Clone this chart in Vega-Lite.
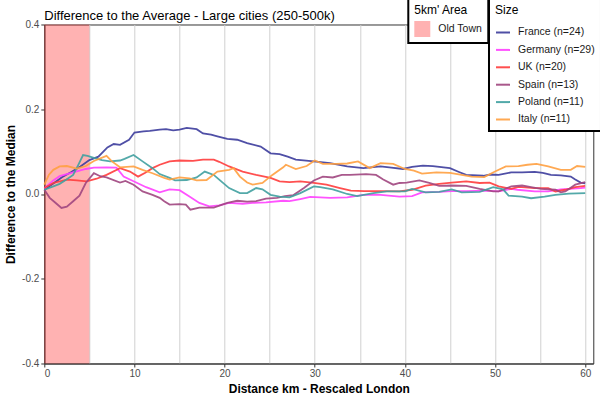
{
  "$schema": "https://vega.github.io/schema/vega-lite/v6.json",
  "width": 549,
  "height": 339,
  "autosize": "none",
  "padding": {"left": 44.3, "top": 24.5, "right": 6.7, "bottom": 36.2},
  "background": "white",
  "title": {"text": "Difference to the Average - Large cities (250-500k)", "anchor": "start", "frame": "group", "font": "Liberation Sans", "fontSize": 13, "fontWeight": "normal", "color": "black", "baseline": "alphabetic", "offset": 7, "dy": 42},
  "config": {
    "view": {"stroke": "#333333", "strokeWidth": 1},
    "axis": {"labelFont": "Liberation Sans", "labelFontSize": 10, "labelColor": "#4d4d4d", "titleFont": "Liberation Sans", "titleFontSize": 12, "titleFontWeight": "bold", "titleColor": "black", "domainColor": "#333333", "domainWidth": 1, "tickSize": 3.5, "gridColor": "#d0d0d0", "gridWidth": 1, "labelPadding": 2},
    "legend": {"orient": "none", "titleFont": "Liberation Sans", "titleFontSize": 12, "titleFontWeight": "normal", "titleColor": "black", "labelFont": "Liberation Sans", "labelFontSize": 10.5, "labelColor": "#1a1a1a", "strokeColor": "black", "strokeWidth": 2, "fillColor": "white", "padding": 6}
  },
  "datasets": {
    "area": [{"x0": 0, "x1": 5, "area": "Old Town"}],
    "lines": [
      {"country": "France (n=24)", "km": 0, "v": 0.010},
      {"country": "France (n=24)", "km": 1, "v": 0.025},
      {"country": "France (n=24)", "km": 2, "v": 0.040},
      {"country": "France (n=24)", "km": 3, "v": 0.052},
      {"country": "France (n=24)", "km": 4, "v": 0.065},
      {"country": "France (n=24)", "km": 5, "v": 0.080},
      {"country": "France (n=24)", "km": 6, "v": 0.088},
      {"country": "France (n=24)", "km": 7, "v": 0.110},
      {"country": "France (n=24)", "km": 7.7, "v": 0.118},
      {"country": "France (n=24)", "km": 8.4, "v": 0.116},
      {"country": "France (n=24)", "km": 9.4, "v": 0.128},
      {"country": "France (n=24)", "km": 10, "v": 0.145},
      {"country": "France (n=24)", "km": 11, "v": 0.148},
      {"country": "France (n=24)", "km": 11.7, "v": 0.149},
      {"country": "France (n=24)", "km": 12.8, "v": 0.152},
      {"country": "France (n=24)", "km": 13.5, "v": 0.153},
      {"country": "France (n=24)", "km": 14.3, "v": 0.150},
      {"country": "France (n=24)", "km": 15, "v": 0.152},
      {"country": "France (n=24)", "km": 15.8, "v": 0.156},
      {"country": "France (n=24)", "km": 16.9, "v": 0.153},
      {"country": "France (n=24)", "km": 17.6, "v": 0.143},
      {"country": "France (n=24)", "km": 18.5, "v": 0.140},
      {"country": "France (n=24)", "km": 19.2, "v": 0.136},
      {"country": "France (n=24)", "km": 20.3, "v": 0.130},
      {"country": "France (n=24)", "km": 21.4, "v": 0.128},
      {"country": "France (n=24)", "km": 22.5, "v": 0.120},
      {"country": "France (n=24)", "km": 24, "v": 0.112},
      {"country": "France (n=24)", "km": 25.1, "v": 0.096},
      {"country": "France (n=24)", "km": 26.1, "v": 0.094},
      {"country": "France (n=24)", "km": 27, "v": 0.088},
      {"country": "France (n=24)", "km": 27.9, "v": 0.081},
      {"country": "France (n=24)", "km": 29.9, "v": 0.077},
      {"country": "France (n=24)", "km": 31.7, "v": 0.073},
      {"country": "France (n=24)", "km": 33.6, "v": 0.065},
      {"country": "France (n=24)", "km": 35.4, "v": 0.061},
      {"country": "France (n=24)", "km": 37.3, "v": 0.065},
      {"country": "France (n=24)", "km": 38.5, "v": 0.062},
      {"country": "France (n=24)", "km": 39.8, "v": 0.059},
      {"country": "France (n=24)", "km": 40.8, "v": 0.064},
      {"country": "France (n=24)", "km": 42, "v": 0.067},
      {"country": "France (n=24)", "km": 43.1, "v": 0.066},
      {"country": "France (n=24)", "km": 45, "v": 0.061},
      {"country": "France (n=24)", "km": 46, "v": 0.052},
      {"country": "France (n=24)", "km": 46.8, "v": 0.045},
      {"country": "France (n=24)", "km": 48.7, "v": 0.043},
      {"country": "France (n=24)", "km": 49.5, "v": 0.046},
      {"country": "France (n=24)", "km": 50.4, "v": 0.045},
      {"country": "France (n=24)", "km": 51.8, "v": 0.051},
      {"country": "France (n=24)", "km": 53, "v": 0.051},
      {"country": "France (n=24)", "km": 54.4, "v": 0.052},
      {"country": "France (n=24)", "km": 55.3, "v": 0.050},
      {"country": "France (n=24)", "km": 56.2, "v": 0.045},
      {"country": "France (n=24)", "km": 57.3, "v": 0.044},
      {"country": "France (n=24)", "km": 58.4, "v": 0.041},
      {"country": "France (n=24)", "km": 58.9, "v": 0.034},
      {"country": "France (n=24)", "km": 59.5, "v": 0.027},
      {"country": "France (n=24)", "km": 60, "v": 0.025},

      {"country": "Germany (n=29)", "km": 0, "v": 0.013},
      {"country": "Germany (n=29)", "km": 1, "v": 0.032},
      {"country": "Germany (n=29)", "km": 1.7, "v": 0.042},
      {"country": "Germany (n=29)", "km": 3.2, "v": 0.051},
      {"country": "Germany (n=29)", "km": 4.6, "v": 0.059},
      {"country": "Germany (n=29)", "km": 5.5, "v": 0.062},
      {"country": "Germany (n=29)", "km": 6.9, "v": 0.063},
      {"country": "Germany (n=29)", "km": 8, "v": 0.062},
      {"country": "Germany (n=29)", "km": 8.8, "v": 0.041},
      {"country": "Germany (n=29)", "km": 9.9, "v": 0.030},
      {"country": "Germany (n=29)", "km": 11.3, "v": 0.016},
      {"country": "Germany (n=29)", "km": 12.8, "v": 0.004},
      {"country": "Germany (n=29)", "km": 13.9, "v": 0.011},
      {"country": "Germany (n=29)", "km": 15, "v": 0.009},
      {"country": "Germany (n=29)", "km": 16.1, "v": -0.006},
      {"country": "Germany (n=29)", "km": 17.2, "v": -0.021},
      {"country": "Germany (n=29)", "km": 18.3, "v": -0.029},
      {"country": "Germany (n=29)", "km": 19.4, "v": -0.027},
      {"country": "Germany (n=29)", "km": 20.5, "v": -0.021},
      {"country": "Germany (n=29)", "km": 22, "v": -0.023},
      {"country": "Germany (n=29)", "km": 23.1, "v": -0.021},
      {"country": "Germany (n=29)", "km": 24.6, "v": -0.020},
      {"country": "Germany (n=29)", "km": 26.5, "v": -0.016},
      {"country": "Germany (n=29)", "km": 27.2, "v": -0.017},
      {"country": "Germany (n=29)", "km": 28.4, "v": -0.012},
      {"country": "Germany (n=29)", "km": 29.5, "v": -0.007},
      {"country": "Germany (n=29)", "km": 31.7, "v": -0.009},
      {"country": "Germany (n=29)", "km": 33.6, "v": -0.008},
      {"country": "Germany (n=29)", "km": 35.4, "v": -0.002},
      {"country": "Germany (n=29)", "km": 37.3, "v": -0.002},
      {"country": "Germany (n=29)", "km": 39.4, "v": -0.006},
      {"country": "Germany (n=29)", "km": 40.8, "v": -0.005},
      {"country": "Germany (n=29)", "km": 41.9, "v": 0.004},
      {"country": "Germany (n=29)", "km": 43.8, "v": 0.005},
      {"country": "Germany (n=29)", "km": 45.2, "v": 0.007},
      {"country": "Germany (n=29)", "km": 46.8, "v": 0.007},
      {"country": "Germany (n=29)", "km": 49, "v": 0.008},
      {"country": "Germany (n=29)", "km": 50.4, "v": 0.006},
      {"country": "Germany (n=29)", "km": 51.8, "v": 0.012},
      {"country": "Germany (n=29)", "km": 52.5, "v": 0.010},
      {"country": "Germany (n=29)", "km": 54.4, "v": 0.006},
      {"country": "Germany (n=29)", "km": 55.9, "v": 0.006},
      {"country": "Germany (n=29)", "km": 57.3, "v": 0.011},
      {"country": "Germany (n=29)", "km": 59.5, "v": 0.014},
      {"country": "Germany (n=29)", "km": 60, "v": 0.015},

      {"country": "UK (n=20)", "km": 0, "v": 0.014},
      {"country": "UK (n=20)", "km": 1, "v": 0.026},
      {"country": "UK (n=20)", "km": 2.5, "v": 0.034},
      {"country": "UK (n=20)", "km": 3.6, "v": 0.032},
      {"country": "UK (n=20)", "km": 4.7, "v": 0.030},
      {"country": "UK (n=20)", "km": 5.8, "v": 0.036},
      {"country": "UK (n=20)", "km": 6.9, "v": 0.045},
      {"country": "UK (n=20)", "km": 8.4, "v": 0.061},
      {"country": "UK (n=20)", "km": 9.5, "v": 0.053},
      {"country": "UK (n=20)", "km": 10.4, "v": 0.041},
      {"country": "UK (n=20)", "km": 11.2, "v": 0.050},
      {"country": "UK (n=20)", "km": 12, "v": 0.061},
      {"country": "UK (n=20)", "km": 12.8, "v": 0.069},
      {"country": "UK (n=20)", "km": 13.9, "v": 0.077},
      {"country": "UK (n=20)", "km": 15, "v": 0.079},
      {"country": "UK (n=20)", "km": 16.5, "v": 0.078},
      {"country": "UK (n=20)", "km": 17.6, "v": 0.081},
      {"country": "UK (n=20)", "km": 18.8, "v": 0.081},
      {"country": "UK (n=20)", "km": 19.4, "v": 0.076},
      {"country": "UK (n=20)", "km": 20.5, "v": 0.065},
      {"country": "UK (n=20)", "km": 22, "v": 0.053},
      {"country": "UK (n=20)", "km": 23.5, "v": 0.045},
      {"country": "UK (n=20)", "km": 25.1, "v": 0.038},
      {"country": "UK (n=20)", "km": 26.1, "v": 0.030},
      {"country": "UK (n=20)", "km": 27.2, "v": 0.028},
      {"country": "UK (n=20)", "km": 28.4, "v": 0.030},
      {"country": "UK (n=20)", "km": 29.9, "v": 0.026},
      {"country": "UK (n=20)", "km": 31.3, "v": 0.022},
      {"country": "UK (n=20)", "km": 32.8, "v": 0.014},
      {"country": "UK (n=20)", "km": 34, "v": 0.008},
      {"country": "UK (n=20)", "km": 35.5, "v": 0.007},
      {"country": "UK (n=20)", "km": 37.3, "v": 0.007},
      {"country": "UK (n=20)", "km": 39.4, "v": 0.006},
      {"country": "UK (n=20)", "km": 40.8, "v": 0.010},
      {"country": "UK (n=20)", "km": 42.3, "v": 0.020},
      {"country": "UK (n=20)", "km": 43.8, "v": 0.024},
      {"country": "UK (n=20)", "km": 45.2, "v": 0.027},
      {"country": "UK (n=20)", "km": 46.8, "v": 0.030},
      {"country": "UK (n=20)", "km": 48.3, "v": 0.026},
      {"country": "UK (n=20)", "km": 49.4, "v": 0.027},
      {"country": "UK (n=20)", "km": 50.4, "v": 0.018},
      {"country": "UK (n=20)", "km": 51.8, "v": 0.012},
      {"country": "UK (n=20)", "km": 52.6, "v": 0.017},
      {"country": "UK (n=20)", "km": 54.4, "v": 0.014},
      {"country": "UK (n=20)", "km": 55.9, "v": 0.014},
      {"country": "UK (n=20)", "km": 56.7, "v": 0.006},
      {"country": "UK (n=20)", "km": 57.8, "v": 0.010},
      {"country": "UK (n=20)", "km": 58.9, "v": 0.016},
      {"country": "UK (n=20)", "km": 60, "v": 0.019},

      {"country": "Spain (n=13)", "km": 0, "v": 0.010},
      {"country": "Spain (n=13)", "km": 0.6, "v": -0.009},
      {"country": "Spain (n=13)", "km": 1.2, "v": -0.020},
      {"country": "Spain (n=13)", "km": 1.9, "v": -0.033},
      {"country": "Spain (n=13)", "km": 2.5, "v": -0.030},
      {"country": "Spain (n=13)", "km": 3.2, "v": -0.017},
      {"country": "Spain (n=13)", "km": 3.9, "v": -0.004},
      {"country": "Spain (n=13)", "km": 4.6, "v": 0.026},
      {"country": "Spain (n=13)", "km": 5.5, "v": 0.049},
      {"country": "Spain (n=13)", "km": 6.2, "v": 0.042},
      {"country": "Spain (n=13)", "km": 6.9, "v": 0.039},
      {"country": "Spain (n=13)", "km": 8.4, "v": 0.027},
      {"country": "Spain (n=13)", "km": 9, "v": 0.031},
      {"country": "Spain (n=13)", "km": 9.9, "v": 0.022},
      {"country": "Spain (n=13)", "km": 10.9, "v": 0.006},
      {"country": "Spain (n=13)", "km": 12, "v": -0.002},
      {"country": "Spain (n=13)", "km": 12.8, "v": -0.009},
      {"country": "Spain (n=13)", "km": 13.3, "v": -0.017},
      {"country": "Spain (n=13)", "km": 13.9, "v": -0.025},
      {"country": "Spain (n=13)", "km": 15, "v": -0.024},
      {"country": "Spain (n=13)", "km": 15.7, "v": -0.025},
      {"country": "Spain (n=13)", "km": 16.2, "v": -0.037},
      {"country": "Spain (n=13)", "km": 17.2, "v": -0.032},
      {"country": "Spain (n=13)", "km": 18.8, "v": -0.032},
      {"country": "Spain (n=13)", "km": 20.3, "v": -0.021},
      {"country": "Spain (n=13)", "km": 21.4, "v": -0.016},
      {"country": "Spain (n=13)", "km": 22.5, "v": -0.018},
      {"country": "Spain (n=13)", "km": 23.5, "v": -0.017},
      {"country": "Spain (n=13)", "km": 24.6, "v": -0.011},
      {"country": "Spain (n=13)", "km": 25.8, "v": -0.009},
      {"country": "Spain (n=13)", "km": 26.7, "v": -0.005},
      {"country": "Spain (n=13)", "km": 27.6, "v": -0.003},
      {"country": "Spain (n=13)", "km": 28.8, "v": 0.014},
      {"country": "Spain (n=13)", "km": 29.9, "v": 0.032},
      {"country": "Spain (n=13)", "km": 30.9, "v": 0.041},
      {"country": "Spain (n=13)", "km": 32, "v": 0.039},
      {"country": "Spain (n=13)", "km": 33, "v": 0.045},
      {"country": "Spain (n=13)", "km": 33.9, "v": 0.045},
      {"country": "Spain (n=13)", "km": 35.7, "v": 0.047},
      {"country": "Spain (n=13)", "km": 36.8, "v": 0.045},
      {"country": "Spain (n=13)", "km": 37.6, "v": 0.034},
      {"country": "Spain (n=13)", "km": 38.7, "v": 0.022},
      {"country": "Spain (n=13)", "km": 39.4, "v": 0.026},
      {"country": "Spain (n=13)", "km": 40.2, "v": 0.027},
      {"country": "Spain (n=13)", "km": 41.6, "v": 0.032},
      {"country": "Spain (n=13)", "km": 42.7, "v": 0.026},
      {"country": "Spain (n=13)", "km": 43.8, "v": 0.019},
      {"country": "Spain (n=13)", "km": 45.2, "v": 0.020},
      {"country": "Spain (n=13)", "km": 46.8, "v": 0.019},
      {"country": "Spain (n=13)", "km": 48.3, "v": 0.012},
      {"country": "Spain (n=13)", "km": 49.8, "v": 0.006},
      {"country": "Spain (n=13)", "km": 50.4, "v": 0.006},
      {"country": "Spain (n=13)", "km": 51.8, "v": 0.018},
      {"country": "Spain (n=13)", "km": 53, "v": 0.020},
      {"country": "Spain (n=13)", "km": 54, "v": 0.016},
      {"country": "Spain (n=13)", "km": 55.1, "v": 0.012},
      {"country": "Spain (n=13)", "km": 56.7, "v": 0.010},
      {"country": "Spain (n=13)", "km": 57.3, "v": 0.004},
      {"country": "Spain (n=13)", "km": 57.8, "v": 0.006},
      {"country": "Spain (n=13)", "km": 58.9, "v": 0.022},
      {"country": "Spain (n=13)", "km": 60, "v": 0.028},

      {"country": "Poland (n=11)", "km": 0, "v": 0.010},
      {"country": "Poland (n=11)", "km": 1, "v": 0.018},
      {"country": "Poland (n=11)", "km": 1.7, "v": 0.024},
      {"country": "Poland (n=11)", "km": 2.5, "v": 0.035},
      {"country": "Poland (n=11)", "km": 3.2, "v": 0.045},
      {"country": "Poland (n=11)", "km": 3.8, "v": 0.070},
      {"country": "Poland (n=11)", "km": 4.3, "v": 0.092},
      {"country": "Poland (n=11)", "km": 4.8, "v": 0.090},
      {"country": "Poland (n=11)", "km": 5.5, "v": 0.085},
      {"country": "Poland (n=11)", "km": 6.4, "v": 0.080},
      {"country": "Poland (n=11)", "km": 7.3, "v": 0.077},
      {"country": "Poland (n=11)", "km": 8.4, "v": 0.079},
      {"country": "Poland (n=11)", "km": 8.9, "v": 0.083},
      {"country": "Poland (n=11)", "km": 9.9, "v": 0.092},
      {"country": "Poland (n=11)", "km": 10.9, "v": 0.077},
      {"country": "Poland (n=11)", "km": 12, "v": 0.061},
      {"country": "Poland (n=11)", "km": 12.8, "v": 0.047},
      {"country": "Poland (n=11)", "km": 13.9, "v": 0.038},
      {"country": "Poland (n=11)", "km": 14.5, "v": 0.032},
      {"country": "Poland (n=11)", "km": 15.8, "v": 0.033},
      {"country": "Poland (n=11)", "km": 16.9, "v": 0.039},
      {"country": "Poland (n=11)", "km": 17.8, "v": 0.053},
      {"country": "Poland (n=11)", "km": 18.8, "v": 0.045},
      {"country": "Poland (n=11)", "km": 19.4, "v": 0.034},
      {"country": "Poland (n=11)", "km": 20.5, "v": 0.014},
      {"country": "Poland (n=11)", "km": 21.7, "v": 0.002},
      {"country": "Poland (n=11)", "km": 22.5, "v": 0.002},
      {"country": "Poland (n=11)", "km": 23.5, "v": 0.014},
      {"country": "Poland (n=11)", "km": 24.2, "v": 0.011},
      {"country": "Poland (n=11)", "km": 25.1, "v": -0.002},
      {"country": "Poland (n=11)", "km": 26.1, "v": -0.006},
      {"country": "Poland (n=11)", "km": 27.2, "v": -0.008},
      {"country": "Poland (n=11)", "km": 28.4, "v": 0.002},
      {"country": "Poland (n=11)", "km": 29.9, "v": 0.018},
      {"country": "Poland (n=11)", "km": 30.6, "v": 0.016},
      {"country": "Poland (n=11)", "km": 32, "v": 0.011},
      {"country": "Poland (n=11)", "km": 33.6, "v": 0.000},
      {"country": "Poland (n=11)", "km": 34.7, "v": -0.005},
      {"country": "Poland (n=11)", "km": 36.5, "v": 0.002},
      {"country": "Poland (n=11)", "km": 38, "v": 0.006},
      {"country": "Poland (n=11)", "km": 40, "v": 0.006},
      {"country": "Poland (n=11)", "km": 40.8, "v": 0.012},
      {"country": "Poland (n=11)", "km": 42.3, "v": 0.004},
      {"country": "Poland (n=11)", "km": 43.8, "v": 0.005},
      {"country": "Poland (n=11)", "km": 45.2, "v": 0.011},
      {"country": "Poland (n=11)", "km": 46.3, "v": 0.004},
      {"country": "Poland (n=11)", "km": 48.3, "v": 0.005},
      {"country": "Poland (n=11)", "km": 49.8, "v": 0.016},
      {"country": "Poland (n=11)", "km": 50.9, "v": 0.011},
      {"country": "Poland (n=11)", "km": 51.5, "v": -0.004},
      {"country": "Poland (n=11)", "km": 53, "v": -0.006},
      {"country": "Poland (n=11)", "km": 54, "v": -0.010},
      {"country": "Poland (n=11)", "km": 55.5, "v": -0.006},
      {"country": "Poland (n=11)", "km": 56.7, "v": -0.002},
      {"country": "Poland (n=11)", "km": 58.2, "v": 0.001},
      {"country": "Poland (n=11)", "km": 60, "v": 0.002},

      {"country": "Italy (n=11)", "km": 0, "v": 0.022},
      {"country": "Italy (n=11)", "km": 0.5, "v": 0.045},
      {"country": "Italy (n=11)", "km": 1, "v": 0.057},
      {"country": "Italy (n=11)", "km": 1.7, "v": 0.065},
      {"country": "Italy (n=11)", "km": 2.5, "v": 0.066},
      {"country": "Italy (n=11)", "km": 3.6, "v": 0.060},
      {"country": "Italy (n=11)", "km": 4.6, "v": 0.066},
      {"country": "Italy (n=11)", "km": 5.5, "v": 0.078},
      {"country": "Italy (n=11)", "km": 6.9, "v": 0.090},
      {"country": "Italy (n=11)", "km": 7.5, "v": 0.077},
      {"country": "Italy (n=11)", "km": 8.4, "v": 0.063},
      {"country": "Italy (n=11)", "km": 9.9, "v": 0.065},
      {"country": "Italy (n=11)", "km": 10.9, "v": 0.057},
      {"country": "Italy (n=11)", "km": 12, "v": 0.049},
      {"country": "Italy (n=11)", "km": 13.3, "v": 0.038},
      {"country": "Italy (n=11)", "km": 13.9, "v": 0.034},
      {"country": "Italy (n=11)", "km": 15, "v": 0.039},
      {"country": "Italy (n=11)", "km": 16.1, "v": 0.037},
      {"country": "Italy (n=11)", "km": 16.9, "v": 0.032},
      {"country": "Italy (n=11)", "km": 18, "v": 0.033},
      {"country": "Italy (n=11)", "km": 19.2, "v": 0.053},
      {"country": "Italy (n=11)", "km": 20.5, "v": 0.057},
      {"country": "Italy (n=11)", "km": 21, "v": 0.061},
      {"country": "Italy (n=11)", "km": 21.7, "v": 0.041},
      {"country": "Italy (n=11)", "km": 22.5, "v": 0.027},
      {"country": "Italy (n=11)", "km": 23.1, "v": 0.022},
      {"country": "Italy (n=11)", "km": 24.2, "v": 0.026},
      {"country": "Italy (n=11)", "km": 25.3, "v": 0.045},
      {"country": "Italy (n=11)", "km": 26.5, "v": 0.063},
      {"country": "Italy (n=11)", "km": 26.8, "v": 0.069},
      {"country": "Italy (n=11)", "km": 27.9, "v": 0.059},
      {"country": "Italy (n=11)", "km": 29.1, "v": 0.066},
      {"country": "Italy (n=11)", "km": 30, "v": 0.079},
      {"country": "Italy (n=11)", "km": 30.9, "v": 0.071},
      {"country": "Italy (n=11)", "km": 32.4, "v": 0.071},
      {"country": "Italy (n=11)", "km": 33.6, "v": 0.072},
      {"country": "Italy (n=11)", "km": 34.8, "v": 0.077},
      {"country": "Italy (n=11)", "km": 36.1, "v": 0.061},
      {"country": "Italy (n=11)", "km": 37.3, "v": 0.073},
      {"country": "Italy (n=11)", "km": 38.7, "v": 0.071},
      {"country": "Italy (n=11)", "km": 40, "v": 0.059},
      {"country": "Italy (n=11)", "km": 41, "v": 0.055},
      {"country": "Italy (n=11)", "km": 41.9, "v": 0.048},
      {"country": "Italy (n=11)", "km": 43.5, "v": 0.051},
      {"country": "Italy (n=11)", "km": 45, "v": 0.050},
      {"country": "Italy (n=11)", "km": 46.3, "v": 0.045},
      {"country": "Italy (n=11)", "km": 47.4, "v": 0.041},
      {"country": "Italy (n=11)", "km": 48.8, "v": 0.040},
      {"country": "Italy (n=11)", "km": 50, "v": 0.053},
      {"country": "Italy (n=11)", "km": 51.2, "v": 0.065},
      {"country": "Italy (n=11)", "km": 52.6, "v": 0.066},
      {"country": "Italy (n=11)", "km": 53.6, "v": 0.069},
      {"country": "Italy (n=11)", "km": 54.6, "v": 0.071},
      {"country": "Italy (n=11)", "km": 55.9, "v": 0.065},
      {"country": "Italy (n=11)", "km": 57.3, "v": 0.057},
      {"country": "Italy (n=11)", "km": 58.4, "v": 0.057},
      {"country": "Italy (n=11)", "km": 59.1, "v": 0.066},
      {"country": "Italy (n=11)", "km": 60, "v": 0.064}
    ]
  },
  "layer": [
    {
      "data": {"name": "area"},
      "mark": {"type": "rect", "opacity": 0.3},
      "encoding": {
        "x": {"field": "x0", "type": "quantitative", "scale": {"domain": [0, 60.9], "nice": false, "zero": false}, "title": "Distance km - Rescaled London",
          "axis": {"values": [0, 5, 10, 15, 20, 25, 30, 35, 40, 45, 50, 55, 60], "labelExpr": "datum.value % 10 == 0 ? datum.label : ''", "tickColor": {"condition": {"test": "datum.value % 10 != 0", "value": "transparent"}, "value": "#333333"}, "titlePadding": 5}},
        "x2": {"field": "x1"},
        "y": {"datum": 0.4, "type": "quantitative", "scale": {"domain": [-0.4, 0.4], "nice": false, "zero": false}, "title": "Difference to the Median",
          "axis": {"values": [-0.4, -0.3, -0.2, -0.1, 0, 0.1, 0.2, 0.3, 0.4], "labelExpr": "abs(round(datum.value*10)) % 2 == 0 ? replace(format(datum.value, '.1f'), '\u2212', '-') : ''", "tickColor": {"condition": {"test": "abs(round(datum.value*10)) % 2 == 1", "value": "transparent"}, "value": "#333333"}, "titlePadding": 4}},
        "y2": {"datum": -0.4},
        "fill": {"field": "area", "type": "nominal", "scale": {"range": ["#ff0000"]},
          "legend": {"title": "5km' Area", "legendX": 364, "legendY": -25.5, "symbolType": "square", "symbolSize": 256, "symbolOpacity": 0.3, "symbolStrokeWidth": 0, "titlePadding": 4, "labelOffset": 8}}
      }
    },
    {
      "data": {"name": "lines"},
      "mark": {"type": "line", "strokeWidth": 1.8, "opacity": 0.9},
      "encoding": {
        "x": {"field": "km", "type": "quantitative", "title": "Distance km - Rescaled London"},
        "y": {"field": "v", "type": "quantitative", "title": "Difference to the Median"},
        "color": {"field": "country", "type": "nominal",
          "scale": {"domain": ["France (n=24)", "Germany (n=29)", "UK (n=20)", "Spain (n=13)", "Poland (n=11)", "Italy (n=11)"], "range": ["#3c3c9c", "#ff40ff", "#ff3c3c", "#a0467f", "#40a0a0", "#ffa040"]},
          "legend": {"title": "Size", "legendX": 444.7, "legendY": -25.5, "symbolType": "stroke", "symbolSize": 196, "symbolStrokeWidth": 2, "titlePadding": 7.5, "rowPadding": 3.4, "labelOffset": 7}}
      }
    }
  ]
}
